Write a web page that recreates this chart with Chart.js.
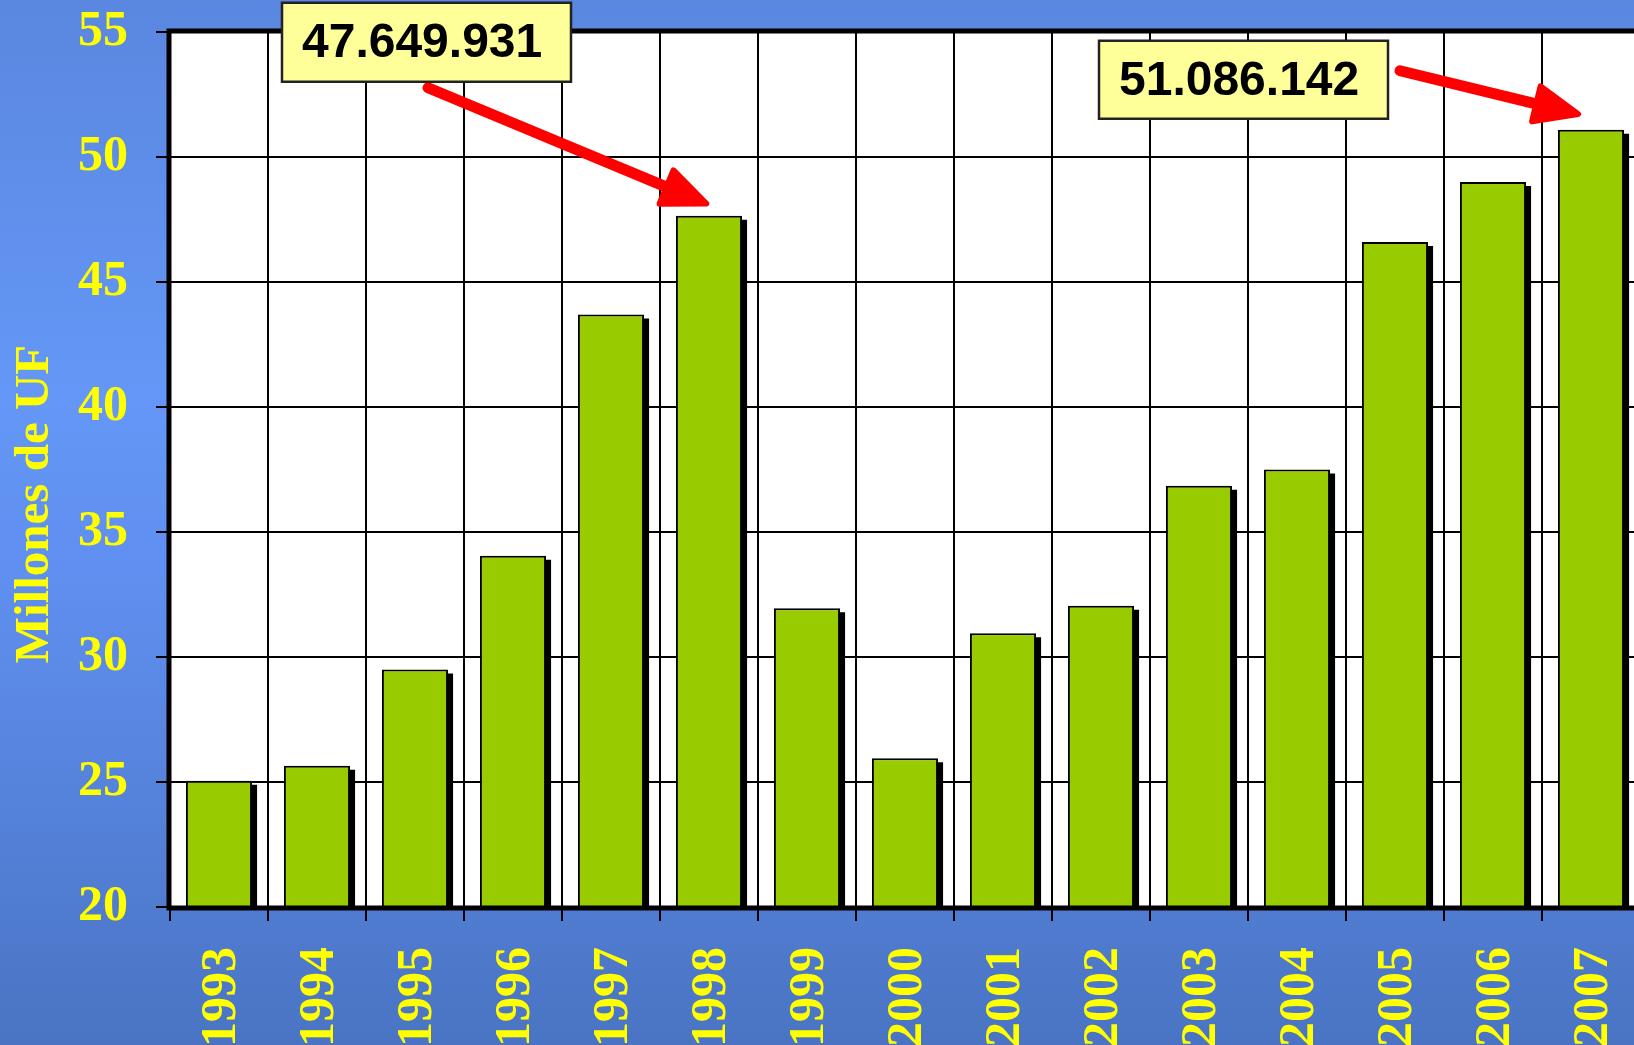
<!DOCTYPE html>
<html><head><meta charset="utf-8">
<script src="https://cdn.jsdelivr.net/npm/chart.js@4/dist/chart.umd.min.js"></script>
<style>
html,body{margin:0;padding:0;width:1634px;height:1045px;overflow:hidden;}
body{background:linear-gradient(180deg,#5a87df 0%,#6497f7 38%,#5f8ff0 55%,#4a74c3 100%);}
#wrap{position:absolute;left:0;top:0;width:1660px;height:1100px;}
canvas{display:block;}
</style></head><body>
<div id="wrap"><canvas id="c" width="1660" height="1100" style="width:1660px;height:1100px"></canvas></div>
<script>
const years = ['1993','1994','1995','1996','1997','1998','1999','2000','2001','2002','2003','2004','2005','2006','2007'];
const values = [25.05, 25.65, 29.5, 34.05, 43.7, 47.65, 31.95, 25.95, 30.95, 32.05, 36.85, 37.5, 46.6, 49.0, 51.09];
const yMin = 20, yMax = 55, yStep = 5;
const yTitle = 'Millones de UF';
const callouts = [
  {index: 5,  text: '47.649.931'},
  {index: 14, text: '51.086.142'}
];
// callout geometry, offsets relative to the bar top
const calloutGeom = [
  {box:[-427,-213,289,79], tail:[-281,-128], tip:[0,-11]},
  {box:[-492,-89,289,78],  tail:[-191,-59], tip:[-10,-15]}
];

const yellow = '#FFFF00';
const serif = '"Liberation Serif","Times New Roman",serif';

function arrow(ctx, x0, y0, x1, y1){
  const dx = x1-x0, dy = y1-y0, L = Math.hypot(dx,dy);
  const ux = dx/L, uy = dy/L, px = -uy, py = ux;
  const hl = 46, hw = 18;
  const bx = x1-ux*hl, by = y1-uy*hl;
  ctx.save();
  ctx.strokeStyle = '#FF0000'; ctx.fillStyle = '#FF0000';
  ctx.lineCap = 'round'; ctx.lineJoin = 'round';
  ctx.lineWidth = 11;
  ctx.beginPath(); ctx.moveTo(x0,y0); ctx.lineTo(bx+ux*6,by+uy*6); ctx.stroke();
  ctx.lineWidth = 6;
  ctx.beginPath();
  ctx.moveTo(x1-ux*3,y1-uy*3);
  ctx.lineTo(bx+px*hw,by+py*hw);
  ctx.lineTo(bx-px*hw,by-py*hw);
  ctx.closePath(); ctx.fill(); ctx.stroke();
  ctx.restore();
}

const deco = {
  id: 'deco',
  beforeDraw(chart){
    const {ctx, chartArea:a} = chart;
    ctx.save(); ctx.fillStyle = '#FFFFFF';
    ctx.fillRect(a.left, a.top, a.right-a.left, a.bottom-a.top);
    ctx.restore();
  },
  beforeDatasetsDraw(chart){
    const {ctx, chartArea:a} = chart;
    const meta = chart.getDatasetMeta(0);
    ctx.save(); ctx.fillStyle = '#000000';
    meta.data.forEach(b => {
      const p = b.getProps(['x','y','base','width'], true);
      const bottom = Math.min(p.base, a.bottom);
      ctx.fillRect(p.x - p.width/2 + 5, p.y + 4, p.width, bottom - p.y - 4);
    });
    ctx.restore();
  },
  afterDatasetsDraw(chart){
    const {ctx, chartArea:a} = chart;
    ctx.save();
    ctx.strokeStyle = '#000000'; ctx.lineWidth = 5;
    ctx.strokeRect(a.left-1, a.top-1, a.right-a.left+2, a.bottom-a.top+2);
    // y title
    ctx.translate(35, 504);
    ctx.rotate(-Math.PI/2);
    ctx.fillStyle = yellow;
    ctx.font = 'bold 49px ' + serif;
    ctx.textAlign = 'center'; ctx.textBaseline = 'middle';
    ctx.fillText(yTitle, 0, 0);
    ctx.restore();
    const meta = chart.getDatasetMeta(0);
    callouts.forEach((c, i) => {
      const b = meta.data[c.index];
      const g = calloutGeom[i];
      const [bx, by, bw, bh] = g.box;
      ctx.save();
      arrow(ctx, b.x + g.tail[0], b.y + g.tail[1], b.x + g.tip[0], b.y + g.tip[1]);
      ctx.fillStyle = '#FFFF99';
      ctx.fillRect(b.x+bx, b.y+by, bw, bh);
      ctx.strokeStyle = '#222222'; ctx.lineWidth = 2.5;
      ctx.strokeRect(b.x+bx, b.y+by, bw, bh);
      ctx.fillStyle = '#000000';
      ctx.font = 'bold 48px "Liberation Sans", Arial, sans-serif';
      ctx.textAlign = 'left'; ctx.textBaseline = 'middle';
      ctx.fillText(c.text, b.x+bx+20, b.y+by+bh/2+2);
      ctx.restore();
    });
  }
};

function noPad(s){ s.paddingTop = 0; s.paddingBottom = 0; s.paddingLeft = 0; s.paddingRight = 0; }

new Chart(document.getElementById('c'), {
  type: 'bar',
  data: {
    labels: years,
    datasets: [{
      data: values,
      backgroundColor: '#99CC00',
      borderColor: '#000000',
      borderWidth: 2,
      borderSkipped: false,
      categoryPercentage: 1,
      barPercentage: 0.675
    }]
  },
  options: {
    responsive: false,
    animation: false,
    events: [],
    layout: {padding: {left: 0, top: 32, right: 20, bottom: 0}},
    plugins: {legend: {display: false}, tooltip: {enabled: false}, title: {display: false}},
    scales: {
      x: {
        grid: {color: '#000000', lineWidth: 2, tickLength: 14, offset: true, drawTicks: true},
        border: {display: false},
        ticks: {
          color: yellow, font: {family: serif, size: 50, weight: 'bold'},
          minRotation: 90, maxRotation: 90, padding: 26, autoSkip: false, labelOffset: 3
        },
        afterFit(s){ s.height = 1100 - 907; noPad(s); }
      },
      y: {
        min: yMin, max: yMax,
        grid: {color: '#000000', lineWidth: 2, tickLength: 14},
        border: {display: false},
        ticks: {
          stepSize: yStep, color: yellow, padding: 28,
          font: {family: serif, size: 50, weight: 'bold'}
        },
        afterFit(s){ s.width = 170; noPad(s); }
      }
    }
  },
  plugins: [deco]
});
</script>
</body></html>
